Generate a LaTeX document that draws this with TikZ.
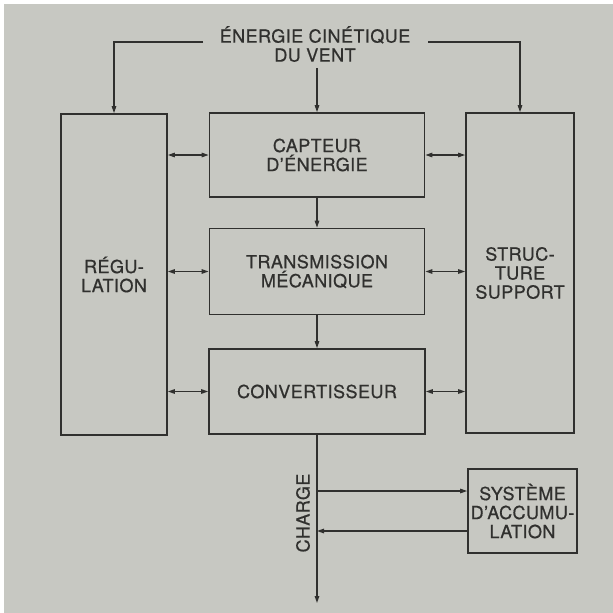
\documentclass[tikz,border=0pt]{standalone}
\usepackage{fontspec}
\setmainfont{TeX Gyre Heros}
\newfontfamily\diagfont{TeX Gyre Heros}[LetterSpace=2.5, BoldFont=TeX Gyre Heros, BoldFeatures={FakeBold=0.7}]
\usetikzlibrary{arrows.meta}
\definecolor{paper}{RGB}{199,200,194}
\definecolor{ink}{RGB}{48,48,46}
\tikzset{
  blk/.style={draw=ink, line width=1.7pt, inner sep=0pt, align=center, text=ink,
              font=\diagfont\bfseries\fontsize{18pt}{19pt}\selectfont},
  lbl/.style={inner sep=0pt, align=center, text=ink, font=\diagfont\bfseries\fontsize{18pt}{19pt}\selectfont},
  conn/.style={draw=ink, line width=1.3pt, -{Triangle[length=7pt,width=4.5pt]}},
  dconn/.style={draw=ink, line width=1.3pt, {Triangle[length=7pt,width=4.5pt]}-{Triangle[length=7pt,width=4.5pt]}},
  wire/.style={draw=ink, line width=1.3pt}
}
\begin{document}
\begin{tikzpicture}[x=1pt,y=-1pt]
\fill[white] (0,0) rectangle (613,613);
\fill[paper] (4,4) rectangle (613,613);
\useasboundingbox (0,0) rectangle (613,613);

\node[lbl] (title) at (315,44) {ÉNERGIE CINÉTIQUE\\DU VENT};

\node[blk, minimum width=106pt, minimum height=321pt] (reg) at (114,274.5) {RÉGU-\\LATION};
\node[blk, minimum width=215pt, minimum height=84pt] (cap) at (317,155) {CAPTEUR\\D’ÉNERGIE};
\node[blk, minimum width=215pt, minimum height=86pt] (tra) at (317,271.5) {TRANSMISSION\\MÉCANIQUE};
\node[blk, minimum width=216pt, minimum height=85pt] (con) at (317,391.5) {CONVERTISSEUR};
\node[blk, minimum width=108pt, minimum height=320pt] (str) at (520,273) {STRUC-\\TURE\\SUPPORT};
\node[blk, minimum width=109pt, minimum height=84pt] (sys) at (522.5,511) {SYSTÈME\\D’ACCUMU-\\LATION};

\coordinate (tl) at (203,42);
\coordinate (tr) at (428,42);
\coordinate (tc) at (317,68);
\coordinate (end) at (317,603);
\coordinate (a1) at (317,491);
\coordinate (a2) at (317,531);

\draw[conn] (tl) -| (reg.north);
\draw[conn] (tr) -| (str.north);
\draw[conn] (tc) -- (cap.north);
\draw[conn] (cap.south) -- (tra.north);
\draw[conn] (tra.south) -- (con.north);
\draw[conn] (con.south) -- (end);
\draw[conn] (a1) -- (a1 -| sys.west);
\draw[conn] (a2 -| sys.west) -- (a2);

\draw[dconn] (reg.east |- cap) -- (cap.west);
\draw[dconn] (reg.east |- tra) -- (tra.west);
\draw[dconn] (reg.east |- con) -- (con.west);
\draw[dconn] (cap.east) -- (str.west |- cap);
\draw[dconn] (tra.east) -- (str.west |- tra);
\draw[dconn] (con.east) -- (str.west |- con);

\node[lbl, rotate=90] (charge) at (303,513) {CHARGE};
\end{tikzpicture}
\end{document}
